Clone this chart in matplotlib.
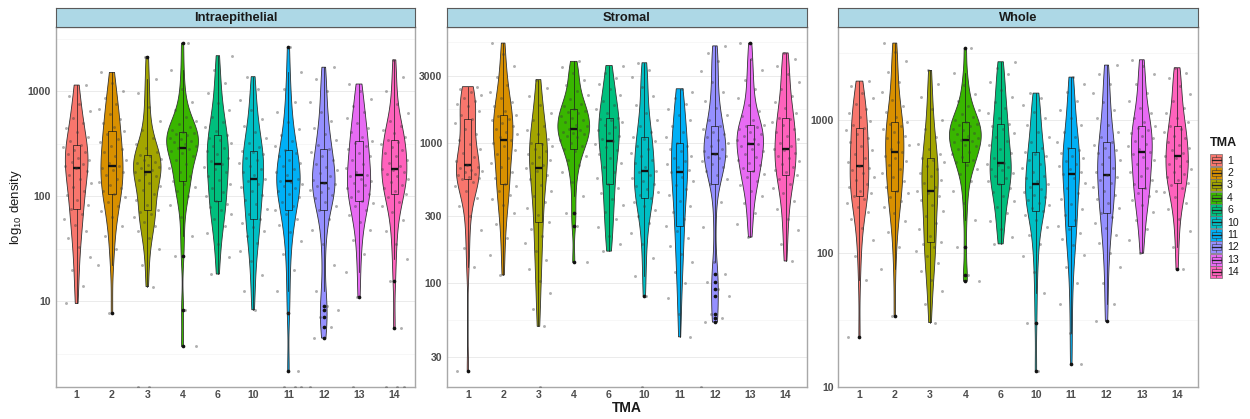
import numpy as np
import matplotlib
matplotlib.use("Agg")
import matplotlib.pyplot as plt
from matplotlib.patches import Rectangle, Polygon
from matplotlib.ticker import NullFormatter

plt.rcParams['font.family'] = ['Liberation Sans', 'DejaVu Sans']
plt.rcParams['mathtext.fontset'] = 'custom'
plt.rcParams['mathtext.rm'] = 'Liberation Sans'

# ---------------------------------------------------------------- data
tma_labels = ["1", "2", "3", "4", "6", "10", "11", "12", "13", "14"]
tma_colors = ["#F8766D", "#D89000", "#A3A500", "#39B600", "#00BF7D",
              "#00BFC4", "#00B0F6", "#9590FF", "#E76BF3", "#FF62BC"]
panel_titles = ["Intraepithelial", "Stromal", "Whole"]

# log10 cell density per core, intraepithelial compartment
intra_tma1 = [0.98, 1.15, 1.30, 1.42, 1.52, 1.60, 1.67, 1.73, 1.78, 1.83, 1.88, 1.92, 1.97, 2.01, 2.05, 2.09, 2.13, 2.17, 2.20, 2.24, 2.27,
              2.29, 2.31, 2.33, 2.35, 2.37, 2.40, 2.42, 2.44, 2.47, 2.49, 2.53, 2.57, 2.61, 2.65, 2.70, 2.75, 2.81, 2.88, 2.96, 3.06]
intra_tma2 = [0.885, 1.35, 1.50, 1.62, 1.72, 1.80, 1.86, 1.91, 1.95, 1.99, 2.02, 2.05, 2.08, 2.11, 2.14, 2.17, 2.20, 2.23, 2.25, 2.27, 2.29,
              2.32, 2.35, 2.38, 2.42, 2.45, 2.48, 2.52, 2.55, 2.59, 2.62, 2.66, 2.70, 2.74, 2.78, 2.83, 2.88, 2.94, 3.00, 3.08, 3.18]
intra_tma3 = [1.14, 1.35, 1.50, 1.60, 1.67, 1.72, 1.76, 1.80, 1.83, 1.85, 1.87, 1.92, 1.97, 2.02, 2.06, 2.10, 2.13, 2.16, 2.19, 2.21, 2.23,
              2.25, 2.27, 2.28, 2.30, 2.32, 2.33, 2.35, 2.36, 2.38, 2.39, 2.42, 2.46, 2.50, 2.56, 2.63, 2.72, 2.85, 2.98, 3.12, 3.33]
intra_tma4 = [0.57, 0.92, 1.43, 1.62, 1.80, 1.92, 2.00, 2.05, 2.09, 2.12, 2.15, 2.19, 2.23, 2.27, 2.31, 2.35, 2.38, 2.41, 2.43, 2.45, 2.46,
              2.48, 2.50, 2.52, 2.53, 2.55, 2.56, 2.58, 2.59, 2.60, 2.61, 2.63, 2.66, 2.69, 2.72, 2.76, 2.82, 2.90, 3.02, 3.20, 3.46]
intra_tma6 = [1.26, 1.42, 1.55, 1.65, 1.72, 1.78, 1.83, 1.87, 1.90, 1.93, 1.96, 2.00, 2.04, 2.08, 2.12, 2.16, 2.19, 2.23, 2.26, 2.28, 2.31,
              2.34, 2.37, 2.40, 2.43, 2.46, 2.48, 2.51, 2.54, 2.56, 2.58, 2.62, 2.66, 2.71, 2.76, 2.82, 2.89, 2.98, 3.08, 3.20, 3.34]
intra_tma10 = [0.92, 1.10, 1.25, 1.38, 1.48, 1.56, 1.62, 1.67, 1.71, 1.75, 1.78, 1.83, 1.88, 1.93, 1.97, 2.01, 2.05, 2.09, 2.12, 2.15, 2.17,
               2.20, 2.23, 2.26, 2.29, 2.32, 2.35, 2.37, 2.40, 2.42, 2.43, 2.47, 2.51, 2.56, 2.61, 2.67, 2.74, 2.82, 2.92, 3.02, 3.14]
intra_tma11 = [0.34, 0.885, 1.10, 1.30, 1.45, 1.57, 1.66, 1.73, 1.78, 1.83, 1.87, 1.91, 1.95, 1.99, 2.02, 2.05, 2.08, 2.10, 2.12, 2.14, 2.15,
               2.17, 2.20, 2.23, 2.26, 2.29, 2.32, 2.35, 2.38, 2.41, 2.44, 2.48, 2.53, 2.58, 2.64, 2.71, 2.80, 2.90, 3.02, 3.18, 3.42]
intra_tma12 = [0.65, 0.76, 0.85, 0.92, 0.96, 1.10, 1.35, 1.55, 1.68, 1.78, 1.87, 1.91, 1.95, 1.98, 2.01, 2.04, 2.06, 2.08, 2.10, 2.12, 2.13,
               2.16, 2.19, 2.22, 2.25, 2.28, 2.31, 2.35, 2.38, 2.42, 2.45, 2.49, 2.54, 2.59, 2.65, 2.72, 2.80, 2.90, 3.00, 3.12, 3.23]
intra_tma13 = [1.04, 1.28, 1.45, 1.58, 1.68, 1.76, 1.82, 1.87, 1.91, 1.94, 1.96, 1.99, 2.02, 2.05, 2.08, 2.11, 2.13, 2.15, 2.17, 2.19, 2.20,
               2.23, 2.27, 2.31, 2.35, 2.38, 2.41, 2.45, 2.48, 2.51, 2.53, 2.57, 2.61, 2.65, 2.70, 2.75, 2.80, 2.86, 2.93, 3.00, 3.07]
intra_tma14 = [0.75, 1.19, 1.40, 1.55, 1.67, 1.77, 1.85, 1.91, 1.95, 1.99, 2.02, 2.05, 2.08, 2.11, 2.14, 2.17, 2.19, 2.21, 2.23, 2.25, 2.26,
               2.29, 2.32, 2.35, 2.38, 2.41, 2.44, 2.47, 2.50, 2.52, 2.54, 2.57, 2.60, 2.63, 2.67, 2.72, 2.79, 2.88, 3.00, 3.14, 3.30]

# log10 cell density per core, stromal compartment
stromal_tma1 = [1.38, 2.12, 2.25, 2.38, 2.48, 2.55, 2.61, 2.66, 2.69, 2.72, 2.74, 2.75, 2.76, 2.77, 2.78, 2.79, 2.80, 2.81, 2.82, 2.83, 2.84,
                2.87, 2.90, 2.93, 2.96, 2.99, 3.02, 3.06, 3.10, 3.14, 3.17, 3.20, 3.23, 3.26, 3.28, 3.30, 3.32, 3.34, 3.36, 3.38, 3.40]
stromal_tma2 = [2.06, 2.20, 2.32, 2.42, 2.50, 2.56, 2.60, 2.63, 2.66, 2.69, 2.71, 2.75, 2.79, 2.83, 2.86, 2.89, 2.92, 2.95, 2.98, 3.00, 3.02,
                3.04, 3.06, 3.08, 3.10, 3.12, 3.14, 3.16, 3.17, 3.19, 3.20, 3.23, 3.26, 3.29, 3.32, 3.36, 3.41, 3.47, 3.55, 3.63, 3.71]
stromal_tma3 = [1.695, 1.82, 1.93, 2.02, 2.10, 2.17, 2.23, 2.29, 2.34, 2.39, 2.44, 2.49, 2.54, 2.58, 2.62, 2.66, 2.70, 2.74, 2.77, 2.80, 2.82,
                2.84, 2.86, 2.88, 2.90, 2.92, 2.94, 2.96, 2.98, 2.99, 3.00, 3.03, 3.06, 3.09, 3.12, 3.16, 3.21, 3.27, 3.33, 3.39, 3.45]
stromal_tma4 = [2.15, 2.41, 2.50, 2.62, 2.72, 2.79, 2.84, 2.88, 2.91, 2.94, 2.96, 2.98, 3.00, 3.02, 3.04, 3.05, 3.06, 3.07, 3.08, 3.09, 3.10,
                3.12, 3.13, 3.15, 3.16, 3.18, 3.19, 3.21, 3.22, 3.23, 3.24, 3.26, 3.28, 3.31, 3.34, 3.37, 3.41, 3.45, 3.50, 3.54, 3.58]
stromal_tma6 = [2.23, 2.28, 2.34, 2.40, 2.46, 2.51, 2.56, 2.60, 2.64, 2.68, 2.71, 2.75, 2.79, 2.83, 2.86, 2.89, 2.92, 2.95, 2.97, 2.99, 3.01,
                3.03, 3.05, 3.07, 3.09, 3.11, 3.13, 3.15, 3.16, 3.17, 3.18, 3.21, 3.24, 3.27, 3.30, 3.34, 3.38, 3.42, 3.46, 3.50, 3.55]
stromal_tma10 = [1.91, 2.05, 2.18, 2.28, 2.36, 2.43, 2.48, 2.52, 2.55, 2.58, 2.61, 2.63, 2.65, 2.67, 2.69, 2.71, 2.73, 2.75, 2.77, 2.79, 2.80,
                 2.83, 2.86, 2.88, 2.91, 2.93, 2.96, 2.98, 3.01, 3.03, 3.04, 3.08, 3.12, 3.16, 3.21, 3.27, 3.33, 3.40, 3.47, 3.52, 3.57]
stromal_tma11 = [1.62, 1.78, 1.90, 2.00, 2.08, 2.15, 2.21, 2.27, 2.32, 2.37, 2.41, 2.46, 2.51, 2.55, 2.59, 2.63, 2.67, 2.70, 2.73, 2.76, 2.79,
                 2.81, 2.83, 2.85, 2.87, 2.89, 2.91, 2.94, 2.96, 2.98, 3.00, 3.04, 3.08, 3.12, 3.16, 3.20, 3.24, 3.28, 3.32, 3.36, 3.385]
stromal_tma12 = [1.725, 1.755, 1.78, 1.91, 1.96, 2.01, 2.07, 2.15, 2.40, 2.58, 2.71, 2.74, 2.77, 2.80, 2.83, 2.85, 2.87, 2.89, 2.90, 2.91, 2.92,
                 2.94, 2.96, 2.98, 3.00, 3.02, 3.04, 3.06, 3.08, 3.10, 3.12, 3.16, 3.20, 3.25, 3.30, 3.36, 3.43, 3.51, 3.58, 3.64, 3.69]
stromal_tma13 = [2.33, 2.42, 2.50, 2.57, 2.62, 2.66, 2.70, 2.73, 2.76, 2.78, 2.80, 2.82, 2.84, 2.86, 2.88, 2.90, 2.92, 2.94, 2.96, 2.98, 2.99,
                 3.00, 3.02, 3.03, 3.05, 3.06, 3.08, 3.10, 3.11, 3.12, 3.13, 3.16, 3.19, 3.23, 3.27, 3.32, 3.38, 3.45, 3.52, 3.60, 3.71]
stromal_tma14 = [2.16, 2.28, 2.38, 2.46, 2.53, 2.59, 2.64, 2.68, 2.71, 2.74, 2.77, 2.79, 2.81, 2.83, 2.85, 2.87, 2.89, 2.91, 2.93, 2.95, 2.96,
                 2.98, 3.00, 3.03, 3.05, 3.08, 3.10, 3.13, 3.15, 3.17, 3.18, 3.21, 3.25, 3.29, 3.33, 3.38, 3.43, 3.49, 3.55, 3.60, 3.64]

# log10 cell density per core, whole tissue
whole_tma1 = [1.37, 1.80, 1.98, 2.10, 2.19, 2.26, 2.31, 2.35, 2.38, 2.41, 2.43, 2.45, 2.47, 2.50, 2.52, 2.55, 2.57, 2.60, 2.62, 2.64, 2.65,
              2.68, 2.71, 2.74, 2.77, 2.80, 2.83, 2.86, 2.89, 2.92, 2.935, 2.96, 2.99, 3.02, 3.05, 3.08, 3.12, 3.16, 3.20, 3.25, 3.29]
whole_tma2 = [1.53, 1.88, 2.05, 2.16, 2.24, 2.30, 2.35, 2.39, 2.42, 2.45, 2.47, 2.50, 2.54, 2.57, 2.60, 2.63, 2.66, 2.69, 2.71, 2.73, 2.755,
              2.78, 2.81, 2.83, 2.86, 2.88, 2.91, 2.93, 2.95, 2.97, 2.98, 3.02, 3.06, 3.10, 3.15, 3.21, 3.28, 3.36, 3.44, 3.51, 3.575]
whole_tma3 = [1.48, 1.62, 1.72, 1.80, 1.87, 1.93, 1.98, 2.02, 2.05, 2.07, 2.085, 2.13, 2.18, 2.23, 2.28, 2.32, 2.36, 2.40, 2.43, 2.45, 2.47,
              2.50, 2.53, 2.55, 2.58, 2.60, 2.63, 2.65, 2.68, 2.70, 2.71, 2.74, 2.78, 2.82, 2.87, 2.93, 3.00, 3.08, 3.17, 3.27, 3.37]
whole_tma4 = [1.79, 1.84, 2.05, 2.25, 2.38, 2.47, 2.54, 2.59, 2.63, 2.66, 2.68, 2.70, 2.72, 2.74, 2.76, 2.78, 2.80, 2.81, 2.83, 2.84, 2.85,
              2.86, 2.88, 2.89, 2.90, 2.92, 2.93, 2.95, 2.96, 2.97, 2.98, 3.00, 3.02, 3.04, 3.07, 3.10, 3.14, 3.19, 3.26, 3.35, 3.535]
whole_tma6 = [2.07, 2.12, 2.18, 2.24, 2.30, 2.35, 2.39, 2.43, 2.46, 2.49, 2.52, 2.54, 2.56, 2.58, 2.60, 2.62, 2.63, 2.645, 2.66, 2.67, 2.675,
              2.71, 2.75, 2.78, 2.81, 2.84, 2.87, 2.90, 2.93, 2.95, 2.97, 3.01, 3.05, 3.09, 3.13, 3.17, 3.22, 3.28, 3.34, 3.39, 3.435]
whole_tma10 = [1.12, 1.48, 1.70, 1.86, 1.98, 2.07, 2.14, 2.20, 2.25, 2.29, 2.32, 2.34, 2.36, 2.38, 2.40, 2.42, 2.44, 2.46, 2.48, 2.50, 2.52,
               2.54, 2.56, 2.58, 2.61, 2.64, 2.67, 2.70, 2.73, 2.745, 2.76, 2.79, 2.83, 2.87, 2.91, 2.96, 3.01, 3.06, 3.11, 3.16, 3.20]
whole_tma11 = [1.17, 1.40, 1.62, 1.78, 1.90, 1.99, 2.06, 2.11, 2.15, 2.18, 2.205, 2.25, 2.29, 2.33, 2.37, 2.41, 2.45, 2.49, 2.53, 2.56, 2.59,
               2.61, 2.63, 2.65, 2.67, 2.69, 2.71, 2.73, 2.75, 2.77, 2.79, 2.83, 2.87, 2.91, 2.96, 3.01, 3.07, 3.14, 3.21, 3.27, 3.32]
whole_tma12 = [1.49, 1.62, 1.78, 1.90, 2.00, 2.08, 2.14, 2.19, 2.23, 2.27, 2.30, 2.34, 2.38, 2.41, 2.44, 2.47, 2.50, 2.53, 2.55, 2.57, 2.585,
               2.61, 2.64, 2.67, 2.70, 2.72, 2.75, 2.77, 2.79, 2.81, 2.83, 2.87, 2.91, 2.96, 3.01, 3.07, 3.13, 3.20, 3.27, 3.34, 3.41]
whole_tma13 = [2.00, 2.10, 2.18, 2.25, 2.31, 2.36, 2.40, 2.43, 2.45, 2.47, 2.49, 2.52, 2.55, 2.58, 2.61, 2.64, 2.67, 2.70, 2.72, 2.74, 2.76,
               2.78, 2.80, 2.82, 2.84, 2.86, 2.88, 2.90, 2.92, 2.94, 2.95, 2.98, 3.01, 3.05, 3.09, 3.14, 3.20, 3.27, 3.34, 3.40, 3.45]
whole_tma14 = [1.88, 2.05, 2.17, 2.26, 2.33, 2.38, 2.42, 2.46, 2.49, 2.51, 2.53, 2.55, 2.57, 2.59, 2.61, 2.63, 2.65, 2.67, 2.69, 2.71, 2.73,
               2.75, 2.77, 2.79, 2.81, 2.83, 2.86, 2.88, 2.91, 2.93, 2.95, 2.98, 3.01, 3.05, 3.09, 3.14, 3.19, 3.25, 3.31, 3.35, 3.39]

# cores with zero density (log10 undefined, shown on the lower panel edge)
intra_zero_counts = [0, 0, 2, 0, 0, 0, 3, 1, 1, 3]
stromal_zero_counts = [0, 0, 1, 0, 0, 1, 0, 1, 0, 0]
whole_zero_counts = [0, 0, 0, 0, 0, 0, 0, 0, 0, 0]

intra_breaks = [10, 100, 1000]
stromal_breaks = [30, 100, 300, 1000, 3000]
whole_breaks = [10, 100, 1000]

panels = [
    ([intra_tma1, intra_tma2, intra_tma3, intra_tma4, intra_tma6, intra_tma10,
      intra_tma11, intra_tma12, intra_tma13, intra_tma14], intra_zero_counts, intra_breaks),
    ([stromal_tma1, stromal_tma2, stromal_tma3, stromal_tma4, stromal_tma6, stromal_tma10,
      stromal_tma11, stromal_tma12, stromal_tma13, stromal_tma14], stromal_zero_counts, stromal_breaks),
    ([whole_tma1, whole_tma2, whole_tma3, whole_tma4, whole_tma6, whole_tma10,
      whole_tma11, whole_tma12, whole_tma13, whole_tma14], whole_zero_counts, whole_breaks),
]

# ---------------------------------------------------------------- helpers
W, H = 1250, 419


def px_rect(x0, y0, x1, y1):
    return [x0 / W, 1 - y1 / H, (x1 - x0) / W, (y1 - y0) / H]


def bw_nrd0(x):
    sd = np.std(x, ddof=1)
    q75, q25 = np.percentile(x, [75, 25])
    return 0.9 * min(sd, (q75 - q25) / 1.34) * len(x) ** -0.2


def kde(x, n=512):
    bw = bw_nrd0(x)
    grid = np.linspace(x.min(), x.max(), n)
    z = (grid[:, None] - x[None, :]) / bw
    dens = np.exp(-0.5 * z ** 2).sum(axis=1) / (len(x) * bw * np.sqrt(2 * np.pi))
    return grid, dens


def box_stats(x):
    q1, med, q3 = np.percentile(x, [25, 50, 75])
    iqr = q3 - q1
    lo_f, hi_f = q1 - 1.5 * iqr, q3 + 1.5 * iqr
    inside = x[(x >= lo_f) & (x <= hi_f)]
    out = x[(x < lo_f) | (x > hi_f)]
    return q1, med, q3, inside.min(), inside.max(), out


def jitter_offsets(n, k, width=0.4):
    idx = np.arange(n)
    frac = (idx * 0.6180339887 + 0.29 * k + 0.11) % 1.0
    return (2 * frac - 1) * width


def minor_breaks(breaks):
    lb = np.log10(breaks)
    mids = list((lb[:-1] + lb[1:]) / 2)
    mids = [lb[0] - (lb[1] - lb[0]) / 2] + mids + [lb[-1] + (lb[-1] - lb[-2]) / 2]
    return 10 ** np.array(mids)


# ---------------------------------------------------------------- figure
fig = plt.figure(figsize=(W / 100, H / 100), dpi=100)
panel_x = [(55.5, 415.5), (446.7, 806.7), (838.3, 1198.3)]
strip_top, plot_top, plot_bottom = 8.3, 26.7, 387.0
positions = np.arange(1, len(tma_labels) + 1)

for (groups, zero_counts, breaks), (x0, x1), title in zip(panels, panel_x, panel_titles):
    ax = fig.add_axes(px_rect(x0, plot_top, x1, plot_bottom))
    ax.set_yscale('log')
    arrays = [np.asarray(g, dtype=float) for g in groups]

    allv = np.concatenate(arrays)
    lo, hi = allv.min(), allv.max()
    pad = 0.05 * (hi - lo)
    ylo, yhi = 10 ** (lo - pad), 10 ** (hi + pad)
    ax.set_ylim(ylo, yhi)
    ax.set_xlim(0.4, len(tma_labels) + 0.6)

    kdes = [kde(a) for a in arrays]
    dmax = max(d.max() for _, d in kdes)

    for k, (a, (grid, dens), pos, col, nz) in enumerate(
            zip(arrays, kdes, positions, tma_colors, zero_counts)):
        hw = 0.45 * dens / dmax
        xs = np.concatenate([pos - hw, (pos + hw)[::-1]])
        ys = 10 ** np.concatenate([grid, grid[::-1]])
        ax.add_patch(Polygon(np.column_stack([xs, ys]), closed=True, facecolor=col,
                             edgecolor='#333333', lw=0.6, zorder=2))

        q1, med, q3, wlo, whi, out = box_stats(a)
        ax.add_patch(Rectangle((pos - 0.1, 10 ** q1), 0.2, 10 ** q3 - 10 ** q1,
                               fill=False, edgecolor='#1a1a1a', lw=0.5, zorder=3))
        ax.plot([pos, pos], [10 ** q3, 10 ** whi], color='#1a1a1a', lw=0.5, zorder=3)
        ax.plot([pos, pos], [10 ** q1, 10 ** wlo], color='#1a1a1a', lw=0.5, zorder=3)
        ax.plot([pos - 0.1, pos + 0.1], [10 ** med, 10 ** med], color='#111111',
                lw=1.7, solid_capstyle='butt', zorder=3.5)
        if len(out):
            ax.scatter(np.full(len(out), pos), 10 ** out, s=7, color='#111111',
                       linewidths=0, zorder=3.6)

        jx = pos + jitter_offsets(len(a), k)
        ax.scatter(jx, 10 ** a, s=4.5, color='#3a3a3a', alpha=0.4, linewidths=0, zorder=4)
        if nz:
            zx = pos + jitter_offsets(nz, k + 3)
            ax.scatter(zx, np.full(nz, ylo), s=4.5, color='#3a3a3a', alpha=0.4,
                       linewidths=0, zorder=4)

    ax.set_xticks(positions, tma_labels, fontweight='bold')
    ax.set_yticks(breaks, [str(b) for b in breaks], fontweight='bold')
    ax.set_yticks(minor_breaks(breaks), minor=True)
    ax.yaxis.set_minor_formatter(NullFormatter())
    ax.set_ylim(ylo, yhi)
    ax.tick_params(which='major', length=0, labelsize=7.6, labelcolor='#4D4D4D')
    ax.tick_params(axis='x', which='major', pad=2.4)
    ax.tick_params(axis='y', which='major', pad=3.2)
    ax.tick_params(which='minor', length=0)
    ax.grid(which='major', axis='y', color='#EBEBEB', lw=0.7)
    ax.grid(which='minor', axis='y', color='#F3F3F3', lw=0.45)
    ax.set_axisbelow(True)
    for sp in ax.spines.values():
        sp.set_color('#A8A8A8')
        sp.set_linewidth(1.0)

    sax = fig.add_axes(px_rect(x0, strip_top, x1, plot_top))
    sax.set_facecolor('#ADD8E6')
    sax.set_xticks([])
    sax.set_yticks([])
    for sp in sax.spines.values():
        sp.set_color('#5A5A5A')
        sp.set_linewidth(0.8)
    sax.text(0.5, 0.47, title, ha='center', va='center', fontsize=9.3,
             fontweight='bold', color='#1A1A1A', transform=sax.transAxes)

# axis titles
fig.text(627 / W, 1 - 407.5 / H, "TMA", ha='center', va='center', fontsize=10,
         fontweight='bold', color='#1A1A1A')
fig.text(16 / W, 1 - 207 / H, r"log$_{\mathregular{10}}$ density", ha='center', va='center',
         rotation=90, fontsize=9.5, color='#1A1A1A')

# legend
lax = fig.add_axes(px_rect(1200, 130, 1250, 290))
lax.set_xlim(1200, 1250)
lax.set_ylim(290, 130)
lax.axis('off')
lax.text(1209.5, 142.5, "TMA", ha='left', va='center', fontsize=9, fontweight='bold',
         color='#1A1A1A')
for i, (lab, col) in enumerate(zip(tma_labels, tma_colors)):
    cy = 160.5 + 12.4 * i
    lax.add_patch(Rectangle((1210, cy - 6), 12, 12, facecolor=col, edgecolor='#6E6E6E', lw=0.5))
    lax.add_patch(Rectangle((1211.5, cy - 3), 9, 6, fill=False, edgecolor='#333333', lw=0.4))
    lax.plot([1216, 1216], [cy - 5, cy - 3], color='#333333', lw=0.4)
    lax.plot([1216, 1216], [cy + 3, cy + 5], color='#333333', lw=0.4)
    lax.plot([1211.5, 1220.5], [cy, cy], color='#222222', lw=0.9)
    lax.text(1227, cy, lab, ha='left', va='center', fontsize=7.6, color='#1A1A1A')

fig.savefig("out.png", dpi=100)
